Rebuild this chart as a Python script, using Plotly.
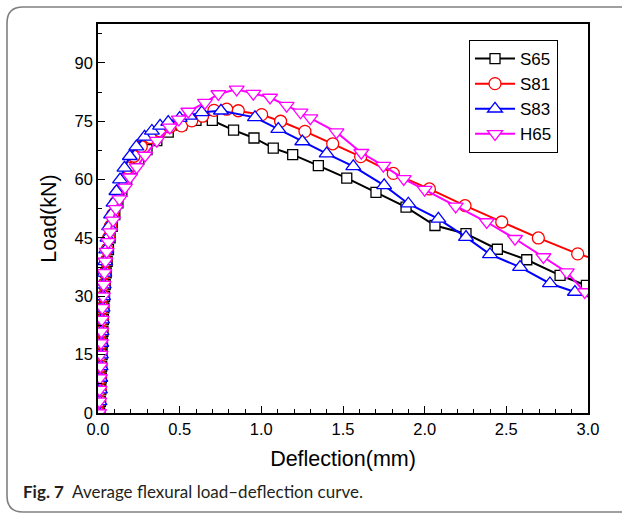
import plotly.graph_objects as go

# ---------------- data ----------------
s65_x = [0.010, 0.014, 0.017, 0.020, 0.022, 0.025, 0.027, 0.030, 0.033, 0.036, 0.040, 0.044,
         0.050, 0.056, 0.064, 0.074, 0.087, 0.103, 0.122, 0.146, 0.175, 0.210, 0.250, 0.300,
         0.360, 0.430, 0.510, 0.600, 0.700, 0.830, 0.955, 1.073, 1.192, 1.349, 1.523, 1.702,
         1.886, 2.063, 2.253, 2.445, 2.625, 2.829, 2.990, 3.100]
s65_y = [0, 3, 6, 9, 12, 15, 18, 21, 24, 27, 30, 33,
         36, 39, 42, 45, 48, 51, 54, 57, 60, 62.8, 65.3, 67.7,
         70.0, 72.2, 74.0, 75.2, 75.2, 72.7, 70.7, 68.1, 66.4, 63.6, 60.4, 56.7,
         52.9, 48.2, 46.1, 42.1, 39.4, 35.4, 32.8, 31.0]

s81_x = [0.008, 0.011, 0.014, 0.016, 0.018, 0.020, 0.022, 0.024, 0.027, 0.030, 0.033, 0.037,
         0.042, 0.048, 0.055, 0.064, 0.076, 0.090, 0.107, 0.128, 0.153, 0.183, 0.220, 0.265,
         0.320, 0.380, 0.440, 0.512, 0.574, 0.640, 0.710, 0.788, 0.859, 1.002, 1.118, 1.267,
         1.437, 1.608, 1.808, 2.029, 2.247, 2.472, 2.696, 2.937, 3.100]
s81_y = [0, 3, 6, 9, 12, 15, 18, 21, 24, 27, 30, 33,
         36, 39, 42, 45, 48, 51, 54, 57, 60, 63, 66, 68.5,
         70.8, 72.5, 73.5, 73.8, 75.1, 76.3, 77.8, 78.1, 77.7, 76.7, 75.0, 72.4,
         69.2, 65.9, 61.6, 57.6, 53.3, 49.1, 45.0, 40.9, 38.8]

s83_x = [0.006, 0.009, 0.012, 0.014, 0.016, 0.018, 0.020, 0.022, 0.025, 0.028, 0.031, 0.035,
         0.039, 0.044, 0.050, 0.058, 0.068, 0.080, 0.095, 0.113, 0.135, 0.162, 0.195, 0.235,
         0.285, 0.330, 0.380, 0.430, 0.500, 0.560, 0.635, 0.753, 0.961, 1.104, 1.251, 1.400,
         1.563, 1.752, 1.900, 2.084, 2.253, 2.400, 2.584, 2.767, 2.920, 3.100]
s83_y = [0, 3, 6, 9, 12, 15, 18, 21, 24, 27, 30, 33,
         36, 39, 42, 45, 48, 51, 54, 57, 60, 63, 66, 68.5,
         71.0, 72.5, 73.8, 74.8, 75.8, 76.4, 77.3, 77.7, 76.0, 73.0, 69.8, 66.7,
         63.4, 58.5, 53.8, 49.9, 45.2, 40.8, 37.5, 33.3, 31.1, 28.5]

h65_x = [0.006, 0.008, 0.010, 0.012, 0.014, 0.016, 0.018, 0.020, 0.023, 0.026, 0.030, 0.034,
         0.039, 0.045, 0.053, 0.063, 0.074, 0.092, 0.110, 0.131, 0.165, 0.196, 0.237, 0.288,
         0.360, 0.440, 0.495, 0.553, 0.655, 0.737, 0.849, 0.951, 1.053, 1.155, 1.240, 1.300,
         1.460, 1.612, 1.747, 1.872, 2.000, 2.190, 2.380, 2.553, 2.727, 2.870, 2.980, 3.100]
h65_y = [0, 3, 6, 9, 12, 15, 18, 21, 24, 27, 30, 33,
         36, 39, 41.5, 44, 46.5, 49.5, 52.5, 55, 58, 60.6, 63.2, 66.2,
         70.0, 73.4, 75.5, 77.5, 79.8, 82.0, 83.2, 82.1, 81.1, 79.0, 77.3, 75.8,
         72.2, 66.9, 63.6, 60.2, 57.4, 53.1, 49.1, 44.8, 40.1, 36.2, 31.1, 27.5]

series_names = ["S65", "S81", "S83", "H65"]
series_colors = ["#000000", "#ff0000", "#0000ff", "#ff00ff"]
series_symbols = ["square", "circle", "triangle-up", "triangle-down"]
series_sizes = [10, 12, 13, 13]

x_ticks = [0.0, 0.5, 1.0, 1.5, 2.0, 2.5, 3.0]
y_ticks = [0, 15, 30, 45, 60, 75, 90]
x_title = "Deflection(mm)"
y_title = "Load(kN)"
caption_bold = "Fig. 7"
caption_text = "Average flexural load–deflection curve."

# ---------------- figure ----------------
W, H = 622, 515
ML, MR, MT, MB = 98, 34, 24, 102
PW, PH = W - ML - MR, H - MT - MB

fig = go.Figure()
for xs, ys, name, col, sym, sz in zip(
        [s65_x, s81_x, s83_x, h65_x], [s65_y, s81_y, s83_y, h65_y],
        series_names, series_colors, series_symbols, series_sizes):
    fig.add_trace(go.Scatter(
        x=xs, y=ys, name=name, mode="lines+markers",
        line=dict(color=col, width=2),
        marker=dict(symbol=sym, size=sz, color="white",
                    line=dict(color=col, width=1.3)),
    ))

FONT = "Liberation Sans, Arial, sans-serif"
axis_font = dict(family=FONT, size=16.5, color="black")
title_font = dict(family=FONT, size=21.5, color="black")

fig.update_xaxes(
    range=[0, 3.0], tickvals=x_ticks, ticktext=[f"{v:.1f}" for v in x_ticks],
    ticks="inside", ticklen=7, tickwidth=1.3, tickcolor="black",
    minor=dict(dtick=0.1, tick0=0, ticks="inside", ticklen=4, tickwidth=1.2, tickcolor="black"),
    showline=True, linecolor="black", linewidth=1.5, mirror=True,
    showgrid=False, zeroline=False,
    tickfont=axis_font,
    title=dict(text=x_title, font=title_font, standoff=14),
)
fig.update_yaxes(
    range=[0, 100], tickvals=y_ticks, ticktext=[str(v) for v in y_ticks],
    ticks="inside", ticklen=7, tickwidth=1.3, tickcolor="black",
    minor=dict(dtick=7.5, tick0=0, ticks="inside", ticklen=4, tickwidth=1.2, tickcolor="black"),
    showline=True, linecolor="black", linewidth=1.5, mirror=True,
    showgrid=False, zeroline=False,
    tickfont=axis_font,
    title=dict(text=y_title, font=title_font, standoff=12),
)

def px2paper(px, py):
    return (px - ML) / PW, (H - MB - py) / PH

# rounded frame around figure (right side runs off the picture)
x0, y0 = 7, 7
x1, y1 = 640, 512
r = 16
a = px2paper(x1, y0)
b = px2paper(x0 + r, y0)
c = px2paper(x0, y0)
d = px2paper(x0, y0 + r)
e = px2paper(x0, y1 - r)
f = px2paper(x0, y1)
g = px2paper(x0 + r, y1)
h = px2paper(x1, y1)
path = (f"M{a[0]},{a[1]} L{b[0]},{b[1]} Q{c[0]},{c[1]} {d[0]},{d[1]} "
        f"L{e[0]},{e[1]} Q{f[0]},{f[1]} {g[0]},{g[1]} L{h[0]},{h[1]}")
fig.add_shape(type="path", path=path, xref="paper", yref="paper",
              line=dict(color="#808080", width=1.6), layer="below")

cx, cy = px2paper(21, 492)
fig.add_annotation(
    x=cx, y=cy, xref="paper", yref="paper", xanchor="left", yanchor="middle",
    showarrow=False,
    text=f"<b>{caption_bold}</b>  {caption_text}",
    font=dict(family="Lato, Noto Sans, sans-serif", size=17, color="#231f20"),
)

lx, ly = px2paper(469, 40)
fig.update_layout(
    width=W, height=H,
    margin=dict(l=ML, r=MR, t=MT, b=MB),
    paper_bgcolor="white", plot_bgcolor="white",
    legend=dict(x=lx, y=ly, xanchor="left", yanchor="top",
                bgcolor="white", bordercolor="black", borderwidth=1,
                font=dict(family=FONT, size=17, color="black"),
                itemwidth=40, tracegroupgap=0),
    showlegend=True,
)

fig.write_html("out.html")
